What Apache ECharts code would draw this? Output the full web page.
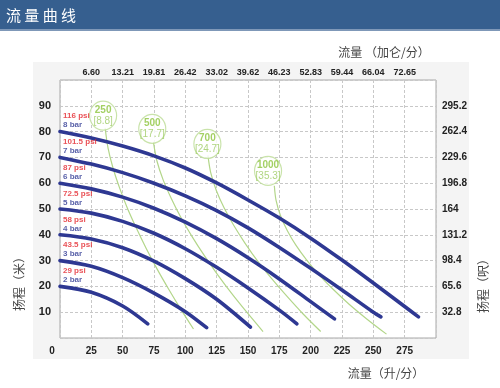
<!DOCTYPE html>
<html><head><meta charset="utf-8">
<script src="https://cdn.jsdelivr.net/npm/echarts@6/dist/echarts.min.js"></script>
<style>html,body{margin:0;padding:0;background:#fff}#c{width:500px;height:388px}</style>
</head><body><div id="c"></div>
<script>
// ---- data ----
const flowTicksGal = ['6.60','13.21','19.81','26.42','33.02','39.62','46.23','52.83','59.44','66.04','72.65'];
const headTicksFt = ['32.8','65.6','98.4','131.2','164','196.8','229.6','262.4','295.2'];
const pressureBar = ['8','7','6','5','4','3','2'];
const pressurePsi = ['116','101.5','87','72.5','58','43.5','29'];
const bar8 = [[0,80],[25,77.5],[50,74.4],[75,70.6],[100,65.9],[125,60.1],[150,53.5],[175,46.5],[200,38.7],[225,30.2],[250,21.3],[275,12.2],[286,8.2]];
const bar7 = [[0,70],[25,67.4],[50,64.1],[75,60],[100,55.1],[125,49.4],[150,42.7],[175,35.1],[200,27],[225,18.6],[250,10],[256,8.2]];
const bar6 = [[0,60],[25,57.8],[50,54.6],[75,50.3],[100,44.9],[125,38.5],[150,31.1],[175,22.9],[200,14.1],[219,7.4]];
const bar5 = [[0,50],[25,48.4],[50,45.2],[75,40.6],[100,34.6],[125,27.4],[150,19.4],[175,10.8],[189,5.5]];
const bar4 = [[0,40],[25,38.4],[50,35],[75,29.8],[100,23],[125,15],[152,4.2]];
const bar3 = [[0,30],[25,27.8],[50,23.4],[75,17.4],[100,10.2],[117,4]];
const bar2 = [[0,20],[25,17.7],[50,12.4],[70,5.5]];
const air250 = [[36,81.5],[38.3,73.7],[42.3,65.9],[47.6,58.1],[53.8,50.3],[61,42.5],[68.8,34.7],[77.3,26.9],[86.5,19.1],[96.2,11.3],[106.5,3.5]];
const air500 = [[74.5,76],[77.3,68.7],[82.3,61.3],[88.9,54],[96.6,46.6],[105.4,39.3],[115.2,31.9],[125.7,24.6],[137.1,17.2],[149.2,9.9],[162,2.5]];
const air700 = [[118,70.8],[120.3,64],[124.8,57.1],[131.1,50.3],[138.8,43.5],[147.7,36.7],[157.7,29.8],[168.9,23],[181,16.2],[194,9.3],[208,2.5]];
const air1000 = [[171,59],[172.4,53.3],[175.9,47.5],[181.2,41.8],[188.2,36],[196.7,30.3],[206.7,24.5],[218.1,18.8],[230.9,13],[245,7.3],[260.5,1.5]];
const airRate = ['250','500','700','1000'];
const airM3 = ['8.8','17.7','24.7','35.3'];
const airLabelAt = [[34.4,86.2],[73.6,81.1],[117.6,75.2],[166,64.8]];
const pressureStart = [[0,80],[0,70],[0,60],[0,50],[0,40],[0,30],[0,20]];

// ---- chart ----
const NUM = 'Liberation Sans, Arial, sans-serif';
const CJK = 'Noto Sans CJK SC, sans-serif';
const BLUE = '#2e3892';
const GREEN = '#b3d68a';
const chart = echarts.init(document.getElementById('c'), null, {renderer:'canvas'});
const blueCurves = [bar8,bar7,bar6,bar5,bar4,bar3,bar2];
const greenCurves = [air250,air500,air700,air1000];
const series = [];
greenCurves.forEach(d => series.push({type:'line', data:d, showSymbol:false, smooth:0.3, z:2,
  lineStyle:{color:GREEN, width:1.2, join:'round'}, silent:true}));
blueCurves.forEach(d => series.push({type:'line', data:d, showSymbol:false, smooth:0.3, z:3,
  lineStyle:{color:BLUE, width:3.6, cap:'round', join:'round'}, silent:true}));
series.push({type:'scatter', z:5, silent:true, data:airLabelAt.map((p,i)=>({value:p, idx:i})),
  symbol:'circle', symbolSize:[27,29],
  itemStyle:{color:'#fff', borderColor:'#bcdc95', borderWidth:1.2},
  label:{show:true, position:'inside', formatter:p=>'{a|'+airRate[p.data.idx]+'}\n{b|['+airM3[p.data.idx]+']}',
    rich:{a:{fontFamily:NUM, fontWeight:'bold', fontSize:10, color:'#8cc43c', lineHeight:11, align:'center'},
          b:{fontFamily:NUM, fontSize:10, color:'#9ccb62', lineHeight:11, align:'center'}}}});
series.push({type:'scatter', z:6, silent:true, data:pressureStart.map((p,i)=>({value:p, idx:i})),
  symbolSize:0,
  label:{show:true, position:[3,-20], align:'left', verticalAlign:'top',
    formatter:p=>'{r|'+pressurePsi[p.data.idx]+' psi}\n{b|'+pressureBar[p.data.idx]+' bar}',
    rich:{r:{fontFamily:NUM, fontWeight:'bold', fontSize:8, color:'#e4252c', lineHeight:9},
          b:{fontFamily:NUM, fontWeight:'bold', fontSize:8, color:'#2e3892', lineHeight:9}}}});

const split = {show:true, lineStyle:{color:'#c8c8c8', type:[3,2], width:1}};
chart.setOption({
  animation:false,
  backgroundColor:'#fff',
  graphic:[
    {type:'rect', z:-100, shape:{x:33,y:62,width:436,height:297}, style:{fill:'#f4f4f4'}},
    {type:'rect', shape:{x:0,y:0,width:500,height:29}, style:{fill:'#365f8f'}},
    {type:'rect', shape:{x:0,y:29,width:500,height:2}, style:{fill:'#7f98b8'}},
    {type:'text', x:6, y:15, style:{text:'流 量 曲 线', fill:'#fff', font:'15px '+CJK, textVerticalAlign:'middle'}},
    {type:'text', x:384, y:52, style:{text:'流量 （加仑/分）', fill:'#444', font:'12px '+CJK, textAlign:'center', textVerticalAlign:'middle'}},
    {type:'text', x:386, y:373, style:{text:'流量（升/分）', fill:'#444', font:'12px '+CJK, textAlign:'center', textVerticalAlign:'middle'}},
    {type:'text', x:19, y:281, rotation:Math.PI/2, style:{text:'扬程（米）', fill:'#444', font:'12px '+CJK, textAlign:'center', textVerticalAlign:'middle'}},
    {type:'text', x:483, y:283, rotation:Math.PI/2, style:{text:'扬程（呎）', fill:'#444', font:'12px '+CJK, textAlign:'center', textVerticalAlign:'middle'}}
  ],
  grid:{left:60, right:64, top:80, bottom:50, show:true, backgroundColor:'#fff', borderColor:'#a8a8a8', borderWidth:1},
  xAxis:[
    {type:'value', min:0, max:300, interval:25, position:'bottom', splitLine:split,
     axisLine:{show:false}, axisTick:{show:false},
     axisLabel:{margin:8, fontFamily:NUM, fontWeight:'bold', fontSize:10, color:'#222',
       formatter:v=> v===0 ? '{z|0}' : (v===300 ? '' : String(v)),
       rich:{z:{fontFamily:NUM, fontWeight:'bold', fontSize:10, color:'#222', padding:[0,16,0,0]}}}},
    {type:'value', min:0, max:300, interval:25, position:'top', splitLine:{show:false},
     axisLine:{show:false}, axisTick:{show:false},
     axisLabel:{margin:3, fontFamily:NUM, fontWeight:'bold', fontSize:9, color:'#222',
       formatter:v=>{const i=v/25-1; return (i>=0 && i<flowTicksGal.length)? flowTicksGal[i] : '';}}}
  ],
  yAxis:[
    {type:'value', min:0, max:100, interval:10, position:'left', splitLine:split,
     axisLine:{show:false}, axisTick:{show:false},
     axisLabel:{margin:9, fontFamily:NUM, fontWeight:'bold', fontSize:11, color:'#222',
       formatter:v=>(v===0||v===100)?'':String(v)}},
    {type:'value', min:0, max:100, interval:10, position:'right', splitLine:{show:false},
     axisLine:{show:false}, axisTick:{show:false},
     axisLabel:{margin:6, fontFamily:NUM, fontWeight:'bold', fontSize:10, color:'#222', padding:[0,0,6,0],
       formatter:v=>{const i=v/10-1; return (i>=0 && i<headTicksFt.length)? headTicksFt[i] : '';}}}
  ],
  series: series
});
</script></body></html>
